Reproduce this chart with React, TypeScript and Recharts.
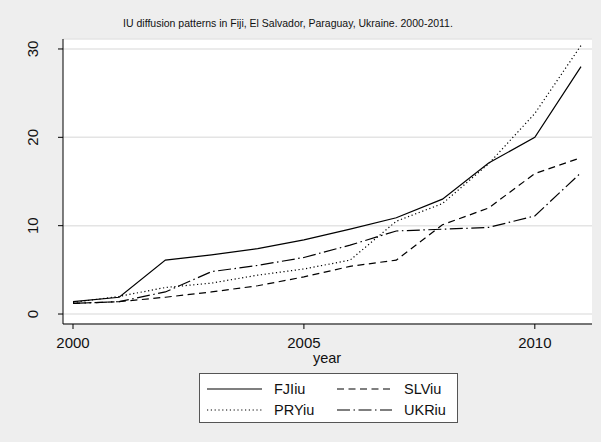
import { CartesianGrid, Line, LineChart, XAxis, YAxis } from "recharts";

// IU diffusion, four countries, 2000-2011
const years = [2000, 2001, 2002, 2003, 2004, 2005, 2006, 2007, 2008, 2009, 2010, 2011];
const fjiIu = [1.4, 1.9, 6.1, 6.7, 7.4, 8.4, 9.6, 10.9, 13.0, 17.1, 20.0, 28.0];
const slvIu = [1.2, 1.4, 1.9, 2.5, 3.2, 4.2, 5.4, 6.1, 10.1, 12.0, 15.9, 17.7];
const pryIu = [1.3, 2.0, 3.0, 3.5, 4.4, 5.1, 6.1, 10.5, 12.5, 17.0, 22.7, 30.4];
const ukrIu = [1.2, 1.4, 2.5, 4.8, 5.5, 6.4, 7.8, 9.4, 9.6, 9.8, 11.1, 16.0];

const xTicks = [2000, 2005, 2010];
const yTicks = [0, 10, 20, 30];

const title = "IU diffusion patterns in Fiji, El Salvador, Paraguay, Ukraine. 2000-2011.";

const series = [
  { key: "FJIiu", label: "FJIiu", dash: undefined as string | undefined },
  { key: "SLViu", label: "SLViu", dash: "7 4.5" },
  { key: "PRYiu", label: "PRYiu", dash: "1.2 2.6" },
  { key: "UKRiu", label: "UKRiu", dash: "13 3.5 1.5 3.5" },
];

const data = years.map((year, i) => ({
  year,
  FJIiu: fjiIu[i],
  SLViu: slvIu[i],
  PRYiu: pryIu[i],
  UKRiu: ukrIu[i],
}));

const font = "'Liberation Sans', Arial, Helvetica, sans-serif";

function YTick(props: any) {
  const { x, y, payload } = props;
  return (
    <text
      x={x - 18}
      y={y}
      transform={`rotate(-90, ${x - 18}, ${y})`}
      textAnchor="middle"
      fontSize={15}
      fontFamily={font}
      fill="#111"
    >
      {payload.value}
    </text>
  );
}

function XTick(props: any) {
  const { x, y, payload } = props;
  return (
    <text x={x} y={y + 17} textAnchor="middle" fontSize={15} fontFamily={font} fill="#111">
      {payload.value}
    </text>
  );
}

// legend drawn as an overlay so it does not eat plot space
function LegendBox() {
  return (
    <div
      style={{
        position: "absolute",
        left: 199,
        top: 373,
        width: 259,
        height: 50,
        background: "#fff",
        border: "1px solid #555",
        display: "grid",
        gridTemplateColumns: "130px 1fr",
        gridTemplateRows: "1fr 1fr",
        fontFamily: font,
        fontSize: 14.5,
        color: "#111",
        padding: "4px 0 1px 7px",
        boxSizing: "border-box",
      }}
    >
      {series.map((s) => (
        <div key={s.key} style={{ display: "flex", alignItems: "center" }}>
          <svg width={55} height={6} style={{ marginRight: 12 }}>
            <line x1={0} y1={3} x2={55} y2={3} stroke="#000" strokeWidth={1.2} strokeDasharray={s.dash} />
          </svg>
          <span>{s.label}</span>
        </div>
      ))}
    </div>
  );
}

export default function App() {
  return (
    <div style={{ position: "relative", width: 601, height: 442, background: "#eeeeee" }}>
      <style>{"body{margin:0}"}</style>
      <LineChart
        width={601}
        height={442}
        data={data}
        margin={{ top: 39, right: 9, bottom: 0, left: 0 }}
      >
        <CartesianGrid horizontal vertical={false} fill="#fff" stroke="#e4e4e4" strokeWidth={1.5} />
        <XAxis
          dataKey="year"
          type="number"
          domain={[2000, 2011]}
          ticks={xTicks}
          padding={{ left: 10, right: 11 }}
          height={118}
          stroke="#000"
          tickSize={5}
          tick={<XTick />}
        />
        <YAxis
          type="number"
          domain={[-1.13, 31.13]}
          ticks={yTicks}
          width={63}
          stroke="#000"
          tickSize={5}
          tick={<YTick />}
        />
        {series.map((s) => (
          <Line
            key={s.key}
            dataKey={s.key}
            stroke="#000"
            strokeWidth={1.2}
            strokeDasharray={s.dash}
            dot={false}
            activeDot={false}
            type="linear"
            isAnimationActive={false}
          />
        ))}
        <text x={288} y={27} textAnchor="middle" fontSize={10.5} fontFamily={font} fill="#111">
          {title}
        </text>
        <text x={327} y={363} textAnchor="middle" fontSize={14.5} fontFamily={font} fill="#111">
          year
        </text>
      </LineChart>
      <LegendBox />
    </div>
  );
}
